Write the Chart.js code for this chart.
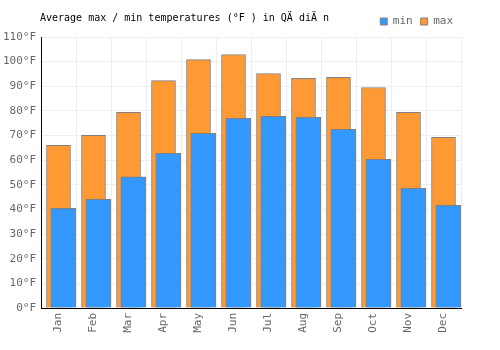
<!DOCTYPE html>
<html>
<head>
<meta charset="utf-8">
<script src="https://cdn.jsdelivr.net/npm/chart.js@4"></script>
<style>
  html, body { margin: 0; padding: 0; background: #fff; }
  #wrap { position: relative; width: 500px; height: 350px; }
  #title { position: absolute; left: 40px; top: 12px; font: 10px "DejaVu Sans Mono", monospace; color: #000; white-space: pre; }
</style>
</head>
<body>
<div id="wrap">
  <canvas id="c" width="500" height="350"></canvas>
  <div id="title">Average max / min temperatures (°F ) in QÄ diÄ n</div>
</div>
<script>
const months = ["Jan","Feb","Mar","Apr","May","Jun","Jul","Aug","Sep","Oct","Nov","Dec"];
const minTemps = [40.5, 44.1, 53.2, 62.8, 70.9, 77.0, 77.8, 77.4, 72.5, 60.3, 48.6, 41.7];
const maxTemps = [66.0, 70.1, 79.4, 92.3, 100.8, 102.9, 95.2, 93.2, 93.6, 89.5, 79.4, 69.3];
const yTicks = [0, 10, 20, 30, 40, 50, 60, 70, 80, 90, 100, 110];
const unit = "°F";

const font = { family: "'DejaVu Sans Mono', monospace", size: 11 };
const shift = 0.137;

new Chart(document.getElementById('c'), {
  type: 'bar',
  data: {
    labels: months,
    datasets: [
      {
        label: 'min',
        data: minTemps.map((v, i) => ({ x: i, y: v })),
        xAxisID: 'x2',
        grouped: false,
        backgroundColor: '#3399ff',
        borderColor: '#808080',
        borderWidth: 1,
        barThickness: 25
      },
      {
        label: 'max',
        data: maxTemps,
        xAxisID: 'x',
        grouped: false,
        backgroundColor: '#ff9933',
        borderColor: '#808080',
        borderWidth: 1,
        barThickness: 24
      }
    ]
  },
  options: {
    responsive: false,
    animation: false,
    devicePixelRatio: 1,
    layout: { padding: { left: 0, right: 39, top: 8, bottom: 0 } },
    plugins: {
      title: { display: false },
      tooltip: { enabled: false },
      legend: {
        position: 'top',
        align: 'end',
        labels: {
          font: font,
          color: '#666',
          boxWidth: 7,
          boxHeight: 7,
          padding: 8
        }
      }
    },
    scales: {
      x: {
        type: 'category',
        offset: true,
        grid: { color: '#eeeeee', offset: true, drawTicks: false },
        border: { color: '#000', width: 1 },
        ticks: { font: font, color: '#666', minRotation: 90, maxRotation: 90, padding: 5, autoSkip: false },
        afterFit: s => { s.height = 42; }
      },
      x2: {
        type: 'linear',
        display: false,
        min: -0.5 - shift,
        max: months.length - 0.5 - shift,
        offset: false
      },
      y: {
        min: 0,
        max: 110,
        afterBuildTicks: s => { s.ticks = yTicks.map(v => ({ value: v })); },
        grid: { color: '#eeeeee', drawTicks: false },
        border: { color: '#000', width: 1 },
        ticks: { font: font, color: '#666', padding: 5, callback: v => v + unit },
        afterFit: s => { s.width = 41; }
      }
    }
  }
});
</script>
</body>
</html>
